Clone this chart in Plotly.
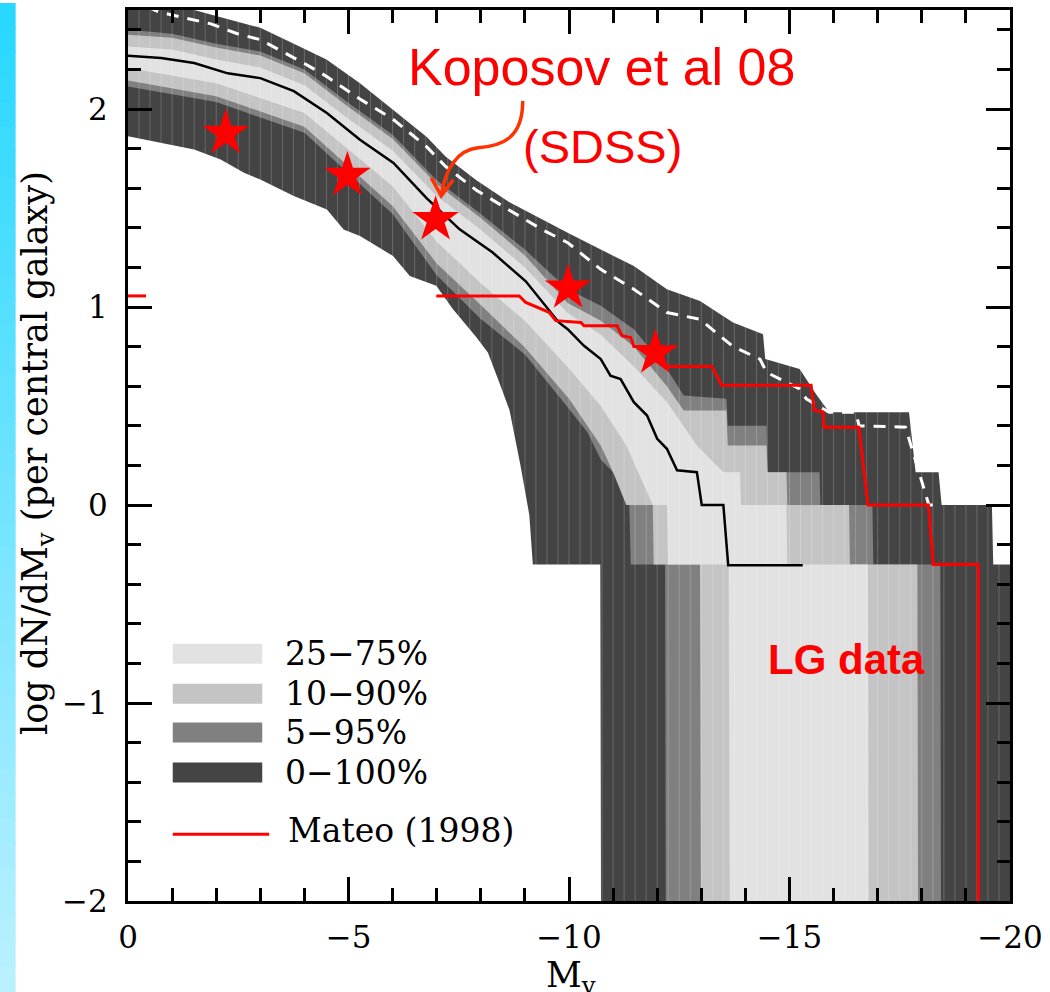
import plotly.graph_objects as go
import numpy as np

# ---------------- data ----------------
# band boundaries (log dN/dMv) ; -2.5 = "minus infinity" (below the axis)
u100_x = [0, -1.0, -2.0, -3.0, -3.76, -4.5, -5.26, -6.0, -6.77, -7.2, -7.9, -8.64, -9.4, -9.97, -10.72, -11.47,
          -12.22, -12.97, -13.72, -14.4, -14.45, -15.23, -15.6, -15.9, -17.71, -17.78, -17.86, -18.38, -18.45,
          -19.59, -19.62, -20]
u100_y = [2.56, 2.53, 2.47, 2.41, 2.33, 2.25, 2.13, 2.0, 1.86, 1.76, 1.64, 1.53, 1.44, 1.375, 1.29, 1.207,
          1.09, 1.03, 0.922, 0.863, 0.737, 0.687, 0.56, 0.468, 0.468, 0.32, 0.166, 0.166, 0.0,
          0.0, -0.3, -0.3]

u95_x = [0, -1, -2, -3, -4, -5, -6, -7, -8, -9, -9.97, -10.72, -11.47, -12.22, -12.6, -13.57, -13.6, -14.48,
         -14.5, -15.68, -15.7, -16.88, -16.9, -18.42, -18.44, -20]
u95_y = [2.40, 2.38, 2.33, 2.29, 2.20, 2.03, 1.87, 1.64, 1.47, 1.29, 1.09, 1.006, 0.888, 0.687, 0.553, 0.536, 0.40,
         0.40, 0.166, 0.166, 0.0, 0.0, -0.3, -0.3, -2.5, -2.5]

u90_x = [0, -1, -2, -3, -4, -5, -6, -7, -8, -9, -9.97, -10.72, -11.47, -12.22, -12.6, -13.57, -13.6, -14.48,
         -14.5, -14.93, -14.95, -16.35, -16.37, -17.9, -17.92, -20]
u90_y = [2.375, 2.36, 2.31, 2.27, 2.18, 2.01, 1.85, 1.62, 1.45, 1.26, 1.02, 0.93, 0.80, 0.60, 0.477, 0.477, 0.30,
         0.30, 0.166, 0.166, 0.0, 0.0, -0.3, -0.3, -2.5, -2.5]

u75_x = [0, -1, -2, -3, -4, -5, -6, -7, -8, -9, -9.97, -10.72, -11.47, -12.22, -12.9, -13.5, -13.88, -13.9,
         -14.93, -14.95, -16.78, -16.8, -20]
u75_y = [2.316, 2.30, 2.25, 2.21, 2.12, 1.95, 1.79, 1.56, 1.39, 1.20, 0.97, 0.86, 0.70, 0.52, 0.30, 0.166, 0.166, 0.0,
         0.0, -0.3, -0.3, -2.5, -2.5]

l25_x = [0, -2, -4, -6, -7, -8, -9, -10, -10.72, -11.3, -11.9, -12.22, -12.25, -13.62, -13.65, -20]
l25_y = [2.207, 2.13, 1.98, 1.61, 1.33, 1.12, 0.93, 0.69, 0.50, 0.30, 0.0, 0.0, -0.3, -0.3, -2.5, -2.5]

l10_x = [0, -2, -4, -6, -7, -8, -9, -10, -10.72, -11.0, -11.3, -11.9, -11.92, -12.97, -13.0, -20]
l10_y = [2.144, 2.065, 1.91, 1.51, 1.22, 1.01, 0.795, 0.536, 0.30, 0.166, 0.0, 0.0, -0.3, -0.3, -2.5, -2.5]

l5_x = [0, -2, -4, -6, -7, -8, -9, -9.82, -10.42, -10.72, -11.0, -11.35, -11.4, -12.18, -12.2, -20]
l5_y = [2.114, 2.035, 1.88, 1.47, 1.16, 0.94, 0.76, 0.535, 0.368, 0.23, 0.166, 0.166, -0.3, -0.3, -2.5, -2.5]

l0_x = [0, -0.75, -1.5, -2.1, -2.63, -3.0, -3.76, -4.51, -4.89, -5.26, -6.01, -6.39, -6.99, -7.37, -7.89, -8.16,
        -8.4, -8.65, -8.9, -9.1, -9.18, -10.71, -10.73, -20]
l0_y = [1.862, 1.829, 1.795, 1.745, 1.678, 1.644, 1.56, 1.493, 1.392, 1.359, 1.258, 1.157, 1.107, 0.989, 0.85, 0.77,
        0.63, 0.48, 0.2, -0.05, -0.3, -0.3, -2.5, -2.5]

median_x = [0, -0.75, -1.5, -2.26, -3.0, -3.76, -4.51, -5.26, -6.02, -6.77, -7.52, -8.27, -9.02, -9.77, -9.97,
            -10.34, -10.72, -10.94, -11.17, -11.47, -11.77, -12.0, -12.22, -12.45, -12.9, -13.01, -13.5, -13.61,
            -15.3]
median_y = [2.269, 2.257, 2.232, 2.18, 2.156, 2.09, 1.98, 1.845, 1.728, 1.55, 1.392, 1.275, 1.13, 0.922, 0.888,
            0.804, 0.737, 0.653, 0.636, 0.519, 0.452, 0.334, 0.284, 0.175, 0.166, 0.0, 0.0, -0.304,
            -0.304]

dash_x = [0, -0.7, -1.88, -2.48, -3.0, -4.0, -4.5, -5.26, -6.0, -6.77, -7.2, -7.9, -8.64, -9.4, -9.97, -10.72,
          -11.47, -12.22, -12.97, -13.72, -14.33, -14.48, -14.93, -15.23, -15.38, -15.9, -16.5, -16.58, -17.63,
          -17.82, -18.0, -18.08, -18.16, -18.38]
dash_y = [2.56, 2.49, 2.43, 2.38, 2.35, 2.23, 2.165, 2.05, 1.95, 1.81, 1.71, 1.59, 1.49, 1.39, 1.325, 1.19,
          1.09, 0.972, 0.938, 0.80, 0.737, 0.67, 0.62, 0.586, 0.536, 0.468, 0.468, 0.40, 0.393,
          0.25, 0.116, 0.048, 0.0, 0.0]

mateo_x = [0, -0.41, None, -6.99, -8.87, -9.02, -9.55, -9.7, -10.27, -10.34, -11.09, -11.2, -11.4, -11.47, -11.92,
           -12.22, -13.24, -13.46, -15.49, -15.56, -15.76, -15.78, -16.57, -16.78, -18.15, -18.26, -19.28, -19.28]
mateo_y = [1.056, 1.056, None, 1.056, 1.056, 1.023, 0.973, 0.931, 0.922, 0.905, 0.905, 0.855, 0.846, 0.80, 0.80,
           0.70, 0.70, 0.605, 0.605, 0.479, 0.47, 0.393, 0.393, 0.0, 0.0, -0.30, -0.30, -2.1]

koposov_x = [-2.217, -4.976, -6.975, -9.98, -11.957]
koposov_y = [1.877, 1.665, 1.441, 1.096, 0.768]

band_labels = ["25\u221275%", "10\u221290%", "5\u221295%", "0\u2212100%"]
band_colors = ["#e2e2e2", "#c4c4c4", "#808080", "#444444"]
mateo_label = "Mateo (1998)"

x_tickvals = [0, -5, -10, -15, -20]
x_ticktext = ["0", "\u22125", "\u221210", "\u221215", "\u221220"]
y_tickvals = [-2, -1, 0, 1, 2]
y_ticktext = ["\u22122", "\u22121", "0", "1", "2"]

bin_width = 0.25  # histogram bin width (visible as faint stripes)

# ---------------- figure ----------------
W, H = 1050, 992
L, R, T, B = 128, 35, 7, 91
PW, PH = W - L - R, H - T - B


def pxx(xp):
    return (xp - L) / PW


def pxy(yp):
    return (H - B - yp) / PH


fig = go.Figure()


def add_band(ux, uy, lx, ly, color):
    xs = list(ux) + list(lx[::-1])
    ys = list(uy) + list(ly[::-1])
    fig.add_trace(go.Scatter(x=xs, y=ys, mode="lines", fill="toself", fillcolor=color,
                             line=dict(width=0), hoverinfo="skip", showlegend=False))


add_band(u100_x, u100_y, l0_x, l0_y, band_colors[3])
add_band(u95_x, u95_y, l5_x, l5_y, band_colors[2])
add_band(u90_x, u90_y, l10_x, l10_y, band_colors[1])
add_band(u75_x, u75_y, l25_x, l25_y, band_colors[0])

# faint bin stripes
edges = np.arange(-bin_width, -20, -bin_width)
sx, sy = [], []
for e in edges:
    sx += [e, e, None]
    sy += [-2.6, 2.6, None]
fig.add_trace(go.Scatter(x=sx, y=sy, mode="lines", line=dict(color="rgba(255,255,255,0.2)", width=1),
                         hoverinfo="skip", showlegend=False))

fig.add_trace(go.Scatter(x=median_x, y=median_y, mode="lines", line=dict(color="black", width=2.5),
                         showlegend=False))
fig.add_trace(go.Scatter(x=dash_x, y=dash_y, mode="lines", line=dict(color="white", width=3, dash="12px,9px"),
                         showlegend=False))
fig.add_trace(go.Scatter(x=mateo_x, y=mateo_y, mode="lines", line=dict(color="#ff0000", width=3),
                         connectgaps=False, showlegend=False))
fig.add_trace(go.Scatter(x=koposov_x, y=koposov_y, mode="markers",
                         marker=dict(symbol="star", size=35, color="#ff0000", line=dict(width=0)),
                         showlegend=False))

tickfont = dict(family="DejaVu Serif", size=31, color="black")
common = dict(showline=True, linecolor="black", linewidth=3, mirror="allticks", ticks="inside",
              ticklen=24, tickwidth=3, tickcolor="black", showgrid=False, zeroline=False,
              tickfont=tickfont, tickmode="array")
fig.update_xaxes(range=[0, -20], tickvals=x_tickvals, ticktext=x_ticktext, ticklabelstandoff=7,
                 minor=dict(tickmode="linear", tick0=0, dtick=1, ticks="inside", ticklen=13, tickwidth=3,
                            tickcolor="black", showgrid=False), **common)
fig.update_yaxes(range=[-2, 2.5], tickvals=y_tickvals, ticktext=y_ticktext, ticklabelstandoff=11,
                 minor=dict(tickmode="linear", tick0=0, dtick=0.2, ticks="inside", ticklen=13, tickwidth=3,
                            tickcolor="black", showgrid=False), **common)

shapes = []
# blue slide strip on the left
top_c = np.array([40, 216, 255])
bot_c = np.array([186, 241, 255])
nstrip = 40
for i in range(nstrip):
    f = i / (nstrip - 1)
    c = (1 - f) * top_c + f * bot_c
    y0p = H * i / nstrip
    y1p = H * (i + 1) / nstrip + 1
    shapes.append(dict(type="rect", xref="paper", yref="paper", x0=pxx(-2), x1=pxx(15),
                       y0=pxy(y1p), y1=pxy(y0p), line=dict(width=0),
                       fillcolor="rgb(%d,%d,%d)" % tuple(c.astype(int)), layer="below"))

# legend swatches
sw_rows = [(643, 663), (683, 703), (722, 742), (762, 782)]
for (ya, yb), col in zip(sw_rows, band_colors):
    shapes.append(dict(type="rect", xref="paper", yref="paper", x0=pxx(173), x1=pxx(263),
                       y0=pxy(yb), y1=pxy(ya), fillcolor=col, line=dict(width=0)))
shapes.append(dict(type="line", xref="paper", yref="paper", x0=pxx(173), x1=pxx(270),
                   y0=pxy(834), y1=pxy(834), line=dict(color="#ff0000", width=3)))

# curved arrow pointing at the SDSS points
arrow_col = "#ff3300"
shapes.append(dict(type="path", xref="x", yref="y",
                   path="M -8.951,2.040 C -8.951,1.854 -8.500,1.814 -7.937,1.804 "
                        "C -7.486,1.793 -7.193,1.703 -7.103,1.562",
                   line=dict(color=arrow_col, width=3.5)))
shapes.append(dict(type="path", xref="x", yref="y",
                   path="M -6.877,1.652 L -7.103,1.562 L -7.373,1.642",
                   line=dict(color=arrow_col, width=3.5)))

annotations = []
leg_y = [653, 693, 732, 772]
for lab, yy in zip(band_labels, leg_y):
    annotations.append(dict(xref="paper", yref="paper", x=pxx(284), y=pxy(yy), text=lab, showarrow=False,
                            xanchor="left", yanchor="middle",
                            font=dict(family="DejaVu Serif", size=33, color="black")))
annotations.append(dict(xref="paper", yref="paper", x=pxx(287), y=pxy(830), text=mateo_label, showarrow=False,
                        xanchor="left", yanchor="middle",
                        font=dict(family="DejaVu Serif", size=33, color="black")))

annotations.append(dict(xref="paper", yref="paper", x=pxx(604), y=pxy(64), text="Koposov et al 08",
                        showarrow=False, xanchor="center", yanchor="middle",
                        font=dict(family="Liberation Sans", size=52, color="#ff0000")))
annotations.append(dict(xref="paper", yref="paper", x=pxx(605), y=pxy(144), text="(SDSS)",
                        showarrow=False, xanchor="center", yanchor="middle",
                        font=dict(family="Liberation Sans", size=47, color="#ff0000")))
annotations.append(dict(xref="paper", yref="paper", x=pxx(851), y=pxy(659), text="<b>LG data</b>",
                        showarrow=False, xanchor="center", yanchor="middle",
                        font=dict(family="Liberation Sans", size=42, color="#ff0000")))

annotations.append(dict(xref="paper", yref="paper", x=pxx(37), y=pxy(452), textangle=-90,
                        text="log dN/dM<sub>v</sub> (per central galaxy)", showarrow=False,
                        xanchor="center", yanchor="middle",
                        font=dict(family="DejaVu Serif", size=35, color="black")))
annotations.append(dict(xref="paper", yref="paper", x=pxx(574), y=pxy(978),
                        text="M<sub>v</sub>", showarrow=False, xanchor="center", yanchor="middle",
                        font=dict(family="DejaVu Serif", size=35, color="black")))

fig.update_layout(width=W, height=H, margin=dict(l=L, r=R, t=T, b=B, pad=0),
                  plot_bgcolor="white", paper_bgcolor="white", showlegend=False,
                  shapes=shapes, annotations=annotations)

fig.write_html("out.html", config={"displayModeBar": False},
               post_script="document.body.style.margin='0';"
                           "document.documentElement.style.overflow='hidden';"
                           "document.body.style.overflow='hidden';")
